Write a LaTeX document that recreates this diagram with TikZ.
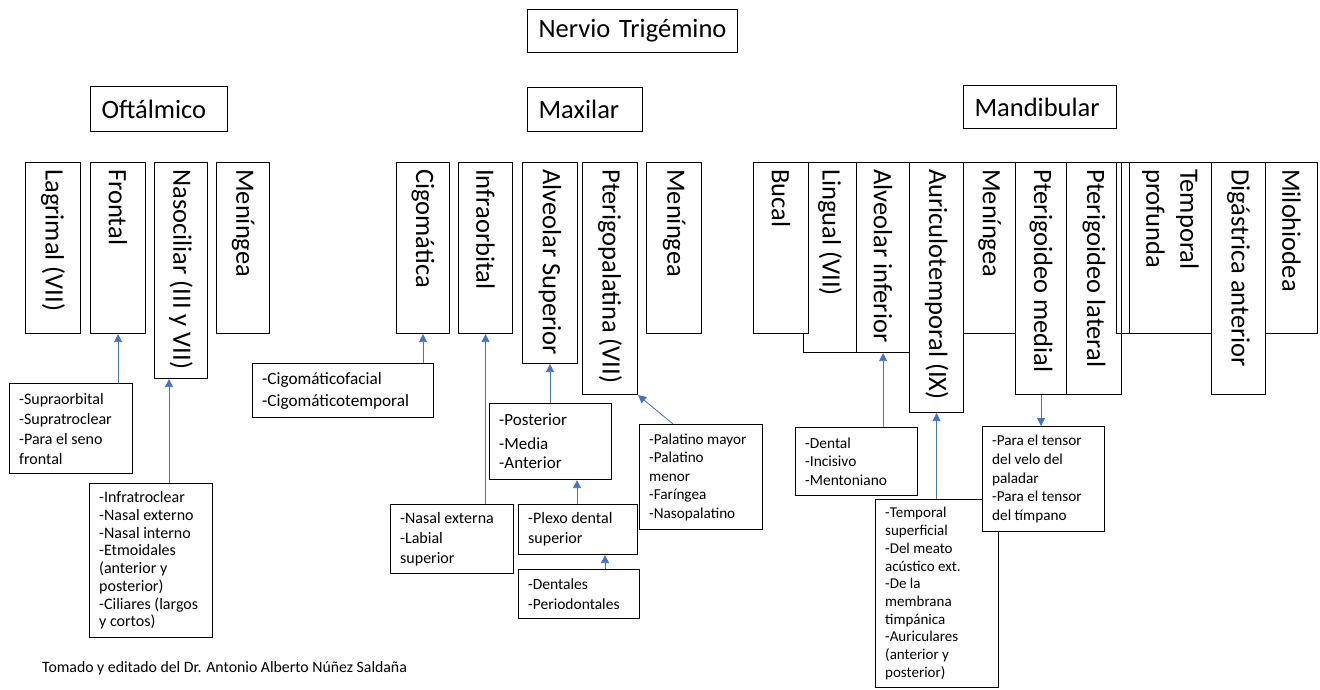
\documentclass[tikz,border=0pt]{standalone}
\usepackage{fontspec}
\setmainfont{Carlito}
\usetikzlibrary{arrows.meta,calc}
\definecolor{arrowblue}{HTML}{4472C4}

% vertical branch box with its name running top to bottom
\newcommand\vnerve[7][]{%
  \node[vb,#1,anchor=north west,minimum width=#5pt,minimum height=#6pt] (#2) at (#3,#4) {};
  \node[vt,anchor=west] (#2-t) at ([yshift=-7pt]#2.north) {#7};}
% list box with left-aligned lines
\newcommand\lbox[8][]{%
  \node[lb,#1,anchor=north west,minimum width=#5pt,minimum height=#6pt] (#2) at (#3,#4) {};
  \node[lt,anchor=west,font=#7] (#2-t) at ([xshift=10pt]#2.west) {#8};}

\begin{document}
\begin{tikzpicture}[x=1pt,y=-1pt,
  hb/.style={draw,line width=1.1pt,inner sep=0pt,anchor=north west,align=left,
    font=\fontsize{26.5}{32}\selectfont},
  vb/.style={draw,line width=1.1pt,inner sep=0pt},
  vt/.style={rotate=-90,inner sep=0pt,align=left,font=\fontsize{26.5}{34}\selectfont},
  lb/.style={draw,line width=1.1pt,inner sep=0pt},
  lt/.style={inner sep=0pt,align=left},
  arr/.style={draw=arrowblue,line width=0.8pt,-{Triangle[width=8pt,length=8pt]}}]
\useasboundingbox (0,0) rectangle (1320,689);

% title and the three divisions
\node[hb,minimum width=210pt,minimum height=43pt,text width=188pt,inner xsep=11pt] (title) at (527,9) {Nervio Trigémino};
\node[hb,minimum width=137pt,minimum height=45pt,text width=115pt,inner xsep=11pt] (oft) at (90,86) {Oftálmico};
\node[hb,minimum width=115pt,minimum height=44pt,text width=93pt,inner xsep=11pt] (max) at (527,87) {Maxilar};
\node[hb,minimum width=153pt,minimum height=43pt,text width=131pt,inner xsep=11pt] (mand) at (963,85) {Mandibular};

% ophthalmic branches
\vnerve{lagr}{25}{162}{55}{171}{Lagrimal (VII)}
\vnerve{front}{90}{162}{55}{171}{Frontal}
\vnerve{nasoc}{154}{162}{53}{216}{Nasociliar (III y VII)}
\vnerve{men1}{216}{162}{53}{171}{Meníngea}

% maxillary branches
\vnerve{cigom}{396}{162}{53}{171}{Cigomática}
\vnerve{infraorb}{458}{162}{54}{171}{Infraorbital}
\vnerve{alvsup}{522}{162}{55}{201}{Alveolar Superior}
\vnerve{pterigo}{582}{162}{55}{232}{Pterigopalatina (VII)}
\vnerve{men2}{646}{162}{55}{171}{Meníngea}

% mandibular branches
\vnerve{lingual}{803}{162}{53}{190}{Lingual (VII)}
\vnerve[fill=white]{bucal}{753}{162}{55}{171}{Bucal}
\vnerve{alvinf}{856}{162}{53}{190}{Alveolar inferior}
\vnerve{auric}{909}{162}{54}{250}{Auriculotemporal (IX)}
\vnerve{men3}{963}{162}{52}{171}{Meníngea}
\vnerve{ptmed}{1015}{162}{51}{232}{Pterigoideo medial}
\vnerve{ptlat}{1066}{162}{55}{232}{Pterigoideo lateral}
\node[vb,anchor=north west,minimum width=80pt,minimum height=171pt] (spare) at (1116,162) {};
\vnerve[fill=white]{tempprof}{1129}{162}{82}{171}{Temporal\\profunda}
\vnerve{digas}{1211}{162}{54}{232}{Digástrica anterior}
\vnerve{milo}{1265}{162}{52}{171}{Milohiodea}

% sub-branch lists
\lbox{supra}{9}{383}{123}{90}{\fontsize{16}{20}\selectfont}{-Supraorbital\\-Supratroclear\\-Para el seno\\frontal}
\lbox{infratro}{89}{483}{123}{154}{\fontsize{16}{17.7}\selectfont}{-Infratroclear\\-Nasal externo\\-Nasal interno\\-Etmoidales\\(anterior y\\posterior)\\-Ciliares (largos\\y cortos)}
\lbox{cigo}{252}{363}{181}{54}{\fontsize{17.2}{22}\selectfont}{-Cigomáticofacial\\-Cigomáticotemporal}
\lbox{poster}{489}{403}{122}{76}{\fontsize{17}{19}\selectfont}{-Posterior\\[5pt]-Media\\-Anterior}
\lbox{palat}{639}{424}{123}{105}{\fontsize{15.2}{18.5}\selectfont}{-Palatino mayor\\-Palatino\\menor\\-Faríngea\\-Nasopalatino}
\lbox{nasext}{390}{504}{123}{69}{\fontsize{16}{20}\selectfont}{-Nasal externa\\-Labial\\superior}
\lbox{plexo}{518}{504}{119}{50}{\fontsize{16}{20}\selectfont}{-Plexo dental\\superior}
\lbox{dentales}{518}{569}{121}{49}{\fontsize{15.5}{20}\selectfont}{-Dentales\\-Periodontales}
\lbox{dental}{795}{427}{122}{68}{\fontsize{15.4}{18.7}\selectfont}{-Dental\\-Incisivo\\-Mentoniano}
\lbox{tempsup}{875}{499}{123}{188}{\fontsize{15}{17.7}\selectfont}{-Temporal\\superficial\\-Del meato\\acústico ext.\\-De la\\membrana\\timpánica\\-Auriculares\\(anterior y\\posterior)}
\lbox[fill=white]{tensor}{982}{426}{122}{105}{\fontsize{15.2}{18.7}\selectfont}{-Para el tensor\\del velo del\\paladar\\-Para el tensor\\del tímpano}

% connectors
\draw[arr] (supra.north -| front.south) -- (front.south);
\coordinate (ia) at ([xshift=80pt]infratro.north west);
\draw[arr] (ia) -- (ia |- nasoc.south);
\draw[arr] (cigo.north -| cigom.south) -- (cigom.south);
\draw[arr] (nasext.north -| infraorb.south) -- (infraorb.south);
\draw[arr] (poster.north -| alvsup.south) -- (alvsup.south);
\draw[arr] ([xshift=34pt]palat.north west) -- (pterigo.south east);
\coordinate (pa) at ([xshift=59pt]plexo.north west);
\draw[arr] (pa) -- (pa |- poster.south);
\coordinate (da) at ([xshift=87pt]dentales.north west);
\draw[arr] (da) -- (da |- plexo.south);
\draw[arr] (dental.north -| alvinf.south) -- (alvinf.south);
\draw[arr] (tempsup.north -| auric.south) -- (auric.south);
\draw[arr] (ptmed.south) -- (ptmed.south |- tensor.north);

% source
\node[inner sep=0pt,anchor=west,font=\fontsize{15.8}{19}\selectfont] (src) at (42,668) {Tomado y editado del Dr. Antonio Alberto Núñez Saldaña};
\end{tikzpicture}
\end{document}
